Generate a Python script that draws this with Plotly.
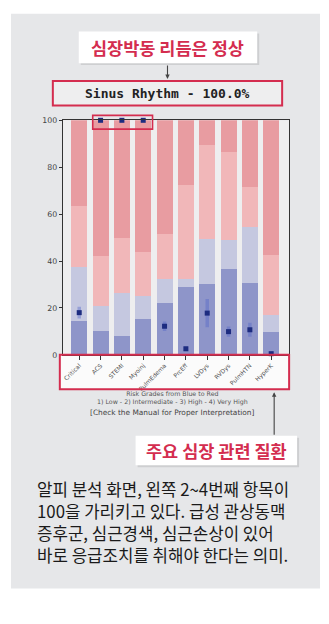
import plotly.graph_objects as go

# ---------------- data ----------------
categories = ["Critical", "ACS", "STEMI", "Myoinj", "PulmEdema",
              "PrcEff", "LVDys", "RVDys", "PulmHTN", "HyperK"]
grade_low = [14.5, 10.0, 7.9, 15.4, 22.0, 29.0, 30.0, 36.7, 30.6, 9.8]
grade_intermediate = [23.1, 11.0, 18.4, 9.8, 10.2, 3.5, 19.5, 12.1, 24.0, 7.2]
grade_high = [25.7, 21.3, 23.7, 18.8, 19.5, 39.9, 39.8, 37.7, 17.1, 25.6]
grade_very_high = [36.7, 57.7, 50.0, 56.0, 48.3, 27.6, 10.7, 13.5, 28.3, 57.4]
score = [18.0, 100.0, 100.0, 100.0, 12.2, 2.6, 17.8, 9.9, 10.7, 0.5]
score_spread = [2.5, 0.0, 0.0, 0.0, 2.0, 1.0, 6.0, 2.2, 3.0, 0.6]
y_ticks = [0, 20, 40, 60, 80, 100]

rhythm_text = "Sinus Rhythm - 100.0%"
callout_top = "심장박동 리듬은 정상"
callout_bottom = "주요 심장 관련 질환"
legend_lines = ["Risk Grades from Blue to Red",
                "1) Low - 2) Intermediate - 3) High - 4) Very High"]
manual_text = "[Check the Manual for Proper Interpretation]"
caption_lines = ["알피 분석 화면, 왼쪽 2~4번째 항목이",
                 "100을 가리키고 있다. 급성 관상동맥",
                 "증후군, 심근경색, 심근손상이 있어",
                 "바로 응급조치를 취해야 한다는 의미."]

# ---------------- layout helpers ----------------
W, H = 329, 624
def px(x):
    return x / W
def py(y):
    return 1 - y / H

CRIMSON = "#d42d4f"
PANEL = "#e6e7e9"

fig = go.Figure()

seg_colors = ["#8e95c9", "#c5c8e0", "#f1b7b9", "#e89ca1"]
for vals, col in zip([grade_low, grade_intermediate, grade_high, grade_very_high], seg_colors):
    fig.add_trace(go.Bar(x=categories, y=vals, marker=dict(color=col, line=dict(width=0)),
                         width=0.75, showlegend=False, hoverinfo="skip"))

fig.add_trace(go.Scatter(
    x=categories, y=score, mode="markers",
    marker=dict(symbol="square", size=5, color="#1d2c80"),
    error_y=dict(type="data", array=score_spread, visible=True,
                 color="rgba(80,100,200,0.40)", thickness=3.5, width=0),
    showlegend=False, hoverinfo="skip", cliponaxis=False))

shapes = []
# panel
shapes.append(dict(type="rect", xref="paper", yref="paper", x0=px(10), x1=px(320),
                   y0=py(593), y1=py(10), fillcolor=PANEL, line=dict(width=0), layer="below"))
# plot area background
shapes.append(dict(type="rect", xref="paper", yref="paper", x0=px(62), x1=px(289),
                   y0=py(356), y1=py(118), fillcolor="#eeeeef", line=dict(width=0), layer="below"))
# x label box (white fill)
shapes.append(dict(type="rect", xref="paper", yref="paper", x0=px(59), x1=px(289),
                   y0=py(391), y1=py(356), fillcolor="#fbfbfb", line=dict(width=0), layer="below"))
# top callout shadow + box
shapes.append(dict(type="rect", xref="paper", yref="paper", x0=px(80), x1=px(259),
                   y0=py(62), y1=py(30), fillcolor="rgba(0,0,0,0.10)", line=dict(width=0), layer="below"))
shapes.append(dict(type="rect", xref="paper", yref="paper", x0=px(78), x1=px(257),
                   y0=py(60), y1=py(28), fillcolor="white", line=dict(width=0), layer="below"))
# rhythm box
shapes.append(dict(type="rect", xref="paper", yref="paper", x0=px(52), x1=px(282),
                   y0=py(103), y1=py(78), fillcolor="#eeeeef",
                   line=dict(color=CRIMSON, width=2), layer="below"))
# bottom callout shadow + box
shapes.append(dict(type="rect", xref="paper", yref="paper", x0=px(137), x1=px(299),
                   y0=py(470), y1=py(440), fillcolor="rgba(0,0,0,0.10)", line=dict(width=0), layer="below"))
shapes.append(dict(type="rect", xref="paper", yref="paper", x0=px(135), x1=px(297),
                   y0=py(468), y1=py(438), fillcolor="white", line=dict(width=0), layer="below"))
# red highlight boxes (above)
shapes.append(dict(type="rect", xref="paper", yref="paper", x0=px(92), x1=px(152),
                   y0=py(127), y1=py(113), fillcolor="rgba(0,0,0,0)",
                   line=dict(color=CRIMSON, width=1.6), layer="above"))
shapes.append(dict(type="rect", xref="paper", yref="paper", x0=px(59), x1=px(289),
                   y0=py(391), y1=py(356), fillcolor="rgba(0,0,0,0)",
                   line=dict(color=CRIMSON, width=2), layer="above"))

annotations = []
annotations.append(dict(xref="paper", yref="paper", x=px(167.5), y=py(44), text="<b>" + callout_top + "</b>",
                        showarrow=False, xanchor="center", yanchor="middle",
                        font=dict(family="Noto Sans CJK KR", size=17.5, color=CRIMSON)))
annotations.append(dict(xref="paper", yref="paper", x=px(167), y=py(90.5), text="<b>" + rhythm_text + "</b>",
                        showarrow=False, xanchor="center", yanchor="middle",
                        font=dict(family="DejaVu Sans Mono", size=13, color="#222222")))
# down arrow
annotations.append(dict(xref="paper", yref="paper", x=px(167), y=py(76), ax=0, ay=-15, text="",
                        showarrow=True, arrowhead=2, arrowsize=0.8, arrowwidth=1.1, arrowcolor="#444444"))
# up arrow
annotations.append(dict(xref="paper", yref="paper", x=px(274), y=py(394), ax=0, ay=44, text="",
                        showarrow=True, arrowhead=2, arrowsize=0.8, arrowwidth=1.1, arrowcolor="#444444"))
annotations.append(dict(xref="paper", yref="paper", x=px(172), y=py(400), text="<br>".join(legend_lines),
                        showarrow=False, xanchor="center", yanchor="middle", align="center",
                        font=dict(family="DejaVu Sans", size=6.3, color="#555555")))
annotations.append(dict(xref="paper", yref="paper", x=px(172), y=py(414.5), text=manual_text,
                        showarrow=False, xanchor="center", yanchor="middle",
                        font=dict(family="DejaVu Sans", size=7.4, color="#444444")))
annotations.append(dict(xref="paper", yref="paper", x=px(216), y=py(453), text="<b>" + callout_bottom + "</b>",
                        showarrow=False, xanchor="center", yanchor="middle",
                        font=dict(family="Noto Sans CJK KR", size=17.5, color=CRIMSON)))
annotations.append(dict(xref="paper", yref="paper", x=px(34), y=py(526), text="<br>".join(caption_lines),
                        showarrow=False, xanchor="left", yanchor="middle", align="left",
                        font=dict(family="Noto Sans CJK KR", size=16.8, color="#1a1a1a")))

fig.update_layout(
    width=W, height=H, autosize=False,
    margin=dict(l=0, r=0, t=0, b=0),
    paper_bgcolor="white", plot_bgcolor="rgba(0,0,0,0)",
    barmode="stack", bargap=0.25,
    shapes=shapes, annotations=annotations,
    xaxis=dict(domain=[px(62), px(289)], range=[-0.77, 9.84], type="category",
               showgrid=False, zeroline=False, showline=True, mirror=True,
               linecolor="#333333", linewidth=1, ticks="outside", ticklen=4, tickcolor="#333333",
               tickangle=-45, tickfont=dict(family="DejaVu Sans", size=6, color="#505050")),
    yaxis=dict(domain=[py(356), py(118)], range=[0, 100], tickvals=y_ticks,
               showgrid=False, zeroline=False, showline=True, mirror=True,
               linecolor="#333333", linewidth=1, ticks="outside", ticklen=3, tickcolor="#333333",
               tickfont=dict(family="DejaVu Sans", size=7.8, color="#444444")),
)

fig.write_html("out.html")
